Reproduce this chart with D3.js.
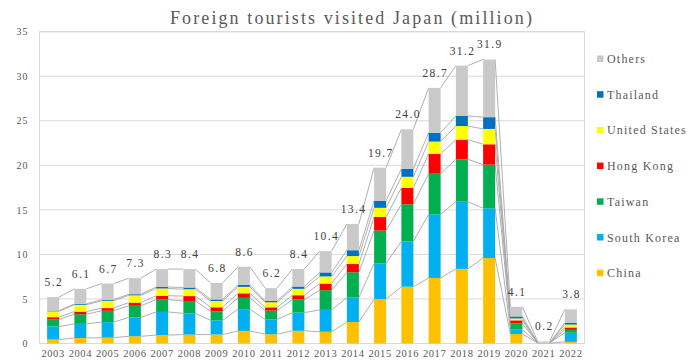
<!DOCTYPE html>
<html>
<head>
<meta charset="utf-8">
<script src="https://cdn.jsdelivr.net/npm/d3@7/dist/d3.min.js"></script>
<style>
  html, body { margin: 0; padding: 0; background: #fff; }
  svg { display: block; }
  svg text { font-family: "Liberation Serif", "Times New Roman", serif !important; }
</style>
</head>
<body>
<svg id="chart" width="700" height="363"></svg>
<script>
// ---- data (million visitors) ----
const years = ["2003","2004","2005","2006","2007","2008","2009","2010","2011","2012","2013","2014","2015","2016","2017","2018","2019","2020","2021","2022"];
const china    = [0.449,0.616,0.653,0.812,0.942,1.000,1.006,1.413,1.044,1.425,1.314,2.409,4.994,6.373,7.356,8.380,9.594,1.069,0.042,0.189];
const korea    = [1.460,1.588,1.747,2.117,2.601,2.382,1.587,2.440,1.658,2.044,2.456,2.755,4.002,5.090,7.140,7.539,5.585,0.488,0.019,1.013];
const taiwan   = [0.785,1.081,1.275,1.309,1.385,1.390,1.024,1.268,0.994,1.466,2.211,2.830,3.677,4.168,4.564,4.757,4.891,0.694,0.005,0.331];
const hongkong = [0.260,0.300,0.299,0.352,0.432,0.550,0.450,0.509,0.365,0.482,0.746,0.926,1.524,1.839,2.232,2.207,2.291,0.346,0.001,0.269];
const usa      = [0.656,0.760,0.822,0.817,0.816,0.768,0.700,0.727,0.566,0.717,0.799,0.892,1.033,1.243,1.375,1.526,1.724,0.219,0.020,0.324];
const thailand = [0.080,0.104,0.120,0.126,0.167,0.192,0.178,0.215,0.145,0.261,0.454,0.658,0.797,0.902,0.987,1.132,1.319,0.220,0.003,0.198];
const others   = [1.522,1.689,1.812,1.801,2.004,2.069,1.845,2.039,1.447,1.963,2.384,2.943,3.710,4.425,5.037,5.651,6.478,1.080,0.156,1.508];
const totals   = [5.212,6.138,6.728,7.334,8.347,8.351,6.790,8.611,6.219,8.358,10.364,13.413,19.737,24.040,28.691,31.192,31.882,4.116,0.246,3.832];
const seriesNames = ["China","South Korea","Taiwan","Hong Kong","United States","Thailand","Others"];
const yTicks = [0,5,10,15,20,25,30,35];

const seriesValues = [china, korea, taiwan, hongkong, usa, thailand, others];
const colors = ["#ffc000","#00b0f0","#00b050","#ff0000","#ffff00","#0070c0","#c9c9c9"];
const FONT = "Liberation Serif";

// ---- layout ----
const svg = d3.select("#chart");
const plot = {left: 39.5, right: 584.5, top: 31.7, bottom: 343.5};

const x = d3.scaleBand().domain(years).range([plot.left, plot.right]).paddingInner(0.56).paddingOuter(0.28);
const y = d3.scaleLinear().domain([0, 35]).range([plot.bottom, plot.top]);

const table = years.map((yr, i) => {
  const row = {year: yr, total: totals[i]};
  seriesNames.forEach((s, k) => row[s] = seriesValues[k][i]);
  return row;
});
const stacked = d3.stack().keys(seriesNames)(table);

// gridlines
svg.append("g").selectAll("line").data(yTicks).join("line")
  .attr("x1", plot.left).attr("x2", plot.right)
  .attr("y1", d => y(d)).attr("y2", d => y(d))
  .attr("stroke", "#d9d9d9").attr("stroke-width", 1);

// plot border
svg.append("rect")
  .attr("x", plot.left).attr("y", plot.top)
  .attr("width", plot.right - plot.left).attr("height", plot.bottom - plot.top)
  .attr("fill", "none").attr("stroke", "#d9d9d9").attr("stroke-width", 1);

// y axis labels
const yAxis = d3.axisLeft(y).tickValues(yTicks).tickSize(0).tickPadding(11);
const yg = svg.append("g").attr("transform", `translate(${plot.left},0)`).call(yAxis)
  .attr("font-family", FONT);
yg.select(".domain").remove();
yg.selectAll("text").attr("font-size", 10).attr("fill", "#595959")
  .attr("letter-spacing", 1).attr("font-family", FONT);

// x axis labels
const xAxis = d3.axisBottom(x).tickSize(0).tickPadding(6);
const xg = svg.append("g").attr("transform", `translate(0,${plot.bottom})`).call(xAxis)
  .attr("font-family", FONT);
xg.select(".domain").remove();
xg.selectAll("text").attr("font-size", 10.5).attr("fill", "#595959")
  .attr("letter-spacing", 0.6).attr("font-family", FONT);

// series lines (connect segment tops between adjacent bars)
const lineG = svg.append("g");
stacked.forEach(layer => {
  for (let i = 0; i < years.length - 1; i++) {
    lineG.append("line")
      .attr("x1", x(years[i]) + x.bandwidth())
      .attr("y1", y(layer[i][1]))
      .attr("x2", x(years[i + 1]))
      .attr("y2", y(layer[i + 1][1]))
      .attr("stroke", "#a6a6a6").attr("stroke-width", 0.9);
  }
});

// bars
svg.append("g").selectAll("g").data(stacked).join("g")
  .attr("fill", (d, k) => colors[k])
  .selectAll("rect").data(d => d).join("rect")
  .attr("x", d => x(d.data.year))
  .attr("width", x.bandwidth())
  .attr("y", d => y(d[1]))
  .attr("height", d => Math.max(0, y(d[0]) - y(d[1])));

// total labels
svg.append("g").selectAll("text").data(table).join("text")
  .attr("x", d => x(d.year) + x.bandwidth() / 2 + 0.7)
  .attr("y", d => y(d.total) - 11)
  .attr("text-anchor", "middle")
  .attr("font-family", FONT)
  .attr("font-size", 11.5).attr("letter-spacing", 1.4)
  .attr("fill", "#404040")
  .text(d => d3.format(".1f")(d.total));

// title
svg.append("text")
  .attr("x", 352).attr("y", 24)
  .attr("text-anchor", "middle")
  .attr("font-family", FONT)
  .attr("font-size", 18).attr("letter-spacing", 2.1)
  .attr("fill", "#595959")
  .text("Foreign tourists visited Japan (million)");

// legend (reverse order)
const legendItems = seriesNames.map((s, k) => ({name: s, color: colors[k]})).reverse();
const lg = svg.append("g").selectAll("g").data(legendItems).join("g")
  .attr("transform", (d, i) => `translate(597,${59 + i * 35.7})`);
lg.append("rect").attr("x", 0).attr("y", -3.5).attr("width", 6.5).attr("height", 6.5)
  .attr("fill", d => d.color);
lg.append("text").attr("x", 10).attr("y", 4)
  .attr("font-family", FONT)
  .attr("font-size", 12).attr("letter-spacing", 1.2)
  .attr("fill", "#595959")
  .text(d => d.name);
</script>
</body>
</html>
